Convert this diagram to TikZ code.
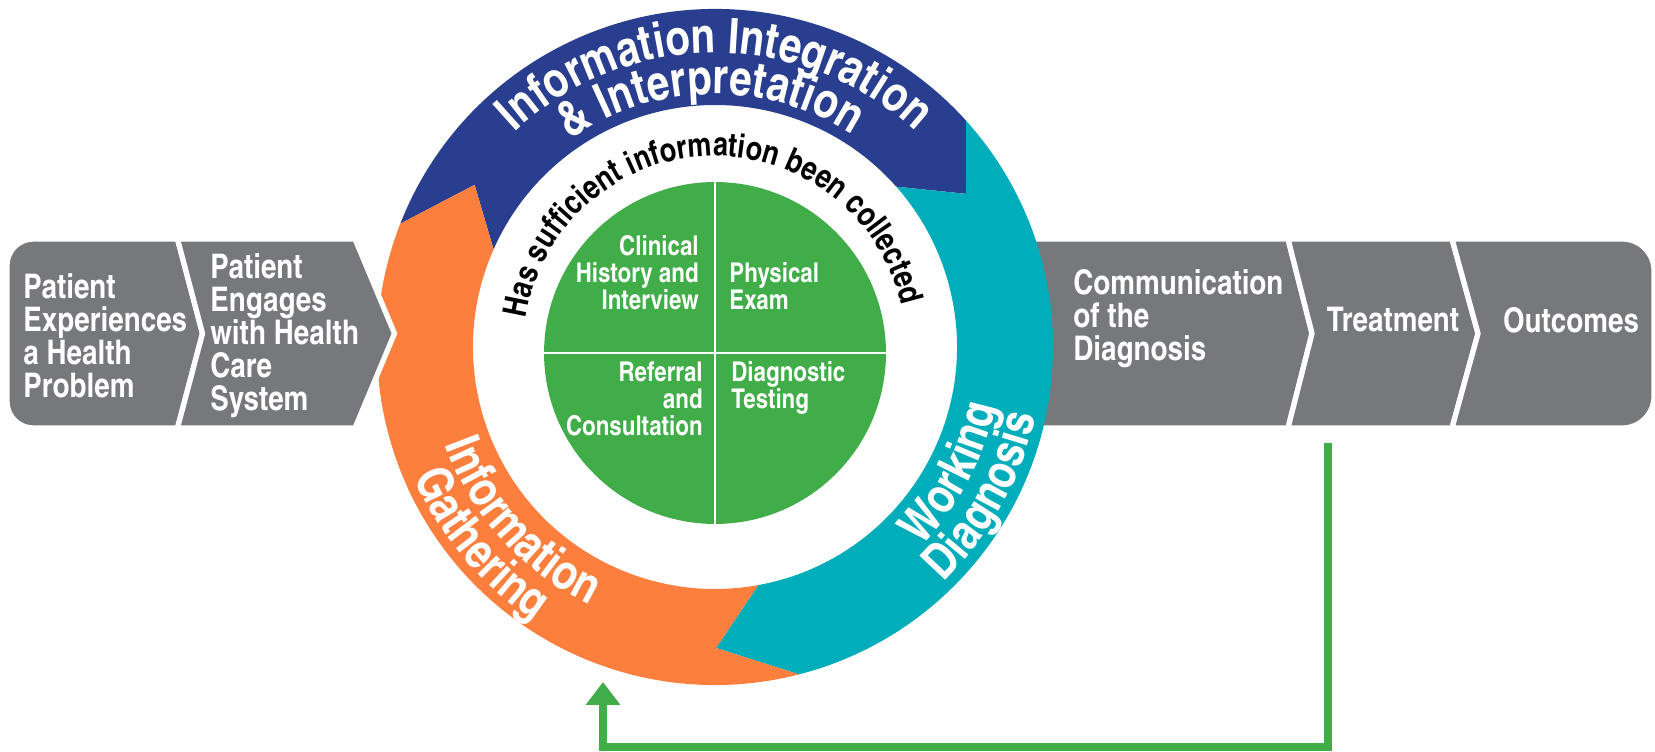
\documentclass[tikz,border=0pt]{standalone}
\usepackage{fontspec}
\usetikzlibrary{arrows.meta,decorations.text}

\newfontfamily\cnfont{texgyreheroscn-bold.otf}
\newcommand{\ringfont}{\cnfont\fontsize{28}{28}\selectfont\color{white}}
\newcommand{\askfont}{\cnfont\fontsize{18.8}{18.8}\selectfont\color{black}}

\definecolor{stagegray}{RGB}{119,120,124}
\definecolor{ringblue}{RGB}{41,62,143}
\definecolor{ringteal}{RGB}{0,173,187}
\definecolor{ringorange}{RGB}{253,127,62}
\definecolor{examgreen}{RGB}{65,173,73}

\tikzset{
  stage/.style={fill=stagegray, draw=white, line width=3pt, line join=miter},
  stagetext/.style={text=white, font=\cnfont\fontsize{19.3}{18.8}\selectfont, align=left, inner sep=0pt},
  quartertext/.style={text=white, font=\cnfont\fontsize{15.5}{15.4}\selectfont, inner sep=0pt},
  ringtext/.style={decorate, decoration={text along path, text align=center, text={|\ringfont|#1}}},
  asktext/.style={decorate, decoration={text along path, text align=center, text={|\askfont|#1}}},
  feedback/.style={draw=examgreen, line width=4.5pt, -{Triangle[width=18.8pt,length=13pt]}}
}

\begin{document}
\begin{tikzpicture}[x=0.02cm, y=0.02cm]
  \useasboundingbox (0,0) rectangle (1655,751);
  \coordinate (C) at (715,404);

  \draw[stage] (990,512) -- (1288,512) -- (1312,417.5) -- (1288,323) -- (990,323) -- cycle;
  \draw[stage] (1288,512) -- (1452,512) -- (1478,417.5) -- (1452,323) -- (1288,323) -- (1312,417.5) -- cycle;
  \draw[stage] (1560,512) [rounded corners=18] -- (1654,512) -- (1654,323) -- (1560,323)
    [sharp corners] -- (1452,323) -- (1478,417.5) -- (1452,512) -- cycle;

  \fill[ringblue] ([shift={(158.6:338)}]C) arc[start angle=158.6, end angle=42, radius=338]
    -- ([shift={(31.4:294)}]C) -- ([shift={(41.5:242)}]C)
    arc[start angle=41.5, end angle=156.2, radius=242] -- ([shift={(146:290)}]C) -- cycle;
  \fill[ringteal] ([shift={(42:338)}]C) arc[start angle=42, end angle=-75.6, radius=338]
    -- ([shift={(-89.8:301)}]C) -- ([shift={(-79.7:242)}]C)
    arc[start angle=-79.7, end angle=41.5, radius=242] -- ([shift={(31.4:294)}]C) -- cycle;
  \fill[ringorange] ([shift={(-75.6:338)}]C) arc[start angle=-75.6, end angle=-201.4, radius=338]
    -- ([shift={(146:290)}]C) -- ([shift={(-203.8:242)}]C)
    arc[start angle=-203.8, end angle=-79.7, radius=242] -- ([shift={(-89.8:301)}]C) -- cycle;

  \draw[stage] (100,323) [rounded corners=15] -- (7,323) -- (7,512) -- (100,512)
    [sharp corners] -- (177.5,512) -- (202.5,417.5) -- (177.5,323) -- cycle;
  \draw[stage] (177.5,512) -- (355,512) -- (394.5,417.5) -- (355,323) -- (177.5,323) -- (202.5,417.5) -- cycle;

  \node[stagetext, anchor=west] (experiences) at (23,415) {Patient\\Experiences\\a Health\\Problem};
  \node[stagetext, anchor=west] (engages) at (210,415) {Patient\\Engages\\with Health\\Care\\System};
  \node[stagetext, anchor=west] (communication) at (1073,432) {Communication\\of the\\Diagnosis};
  \node[stagetext] (treatment) at (1393,431) {Treatment};
  \node[stagetext] (outcomes) at (1571,431) {Outcomes};

  \node[circle, fill=examgreen, minimum size=6.84cm, inner sep=0pt] (exam) at (715,398) {};
  \draw[white, line width=1.4pt] (exam.north) -- (exam.south);
  \draw[white, line width=1.4pt] (exam.west) -- (exam.east);
  \node[quartertext, anchor=north east, align=right] (history) at (699,516) {Clinical\\History and\\Interview};
  \node[quartertext, anchor=north west, align=left] (physical) at (729,489) {Physical\\Exam};
  \node[quartertext, anchor=north east, align=right] (referral) at (703,390) {Referral\\and\\Consultation};
  \node[quartertext, anchor=north west, align=left] (testing) at (731,390) {Diagnostic\\Testing};

  \path[ringtext={Information Integration}] ([shift={(170:294)}]C) arc[start angle=170, end angle=10, radius=294];
  \path[ringtext={{\&} Interpretation}] ([shift={(161:253)}]C) arc[start angle=161, end angle=21, radius=253];
  \path[ringtext={Information}] ([shift={(180:287)}]C) arc[start angle=180, end angle=264, radius=287];
  \path[ringtext={Gathering}] ([shift={(180:328)}]C) arc[start angle=180, end angle=260, radius=328];
  \path[ringtext={Working}] ([shift={(-68:287)}]C) arc[start angle=-68, end angle=12, radius=287];
  \path[ringtext={Diagnosis}] ([shift={(-69:328)}]C) arc[start angle=-69, end angle=11, radius=328];
  \path[asktext={Has sufficient information been collected}] ([shift={(178:191)}]C) arc[start angle=178, end angle=6, radius=191];

  \coordinate (fbstart) at (1328,308);
  \coordinate (fbbase) at (1000,4);
  \coordinate (fbend) at (603,69);
  \draw[feedback] (fbstart) |- (fbbase) -| (fbend);
\end{tikzpicture}
\end{document}
